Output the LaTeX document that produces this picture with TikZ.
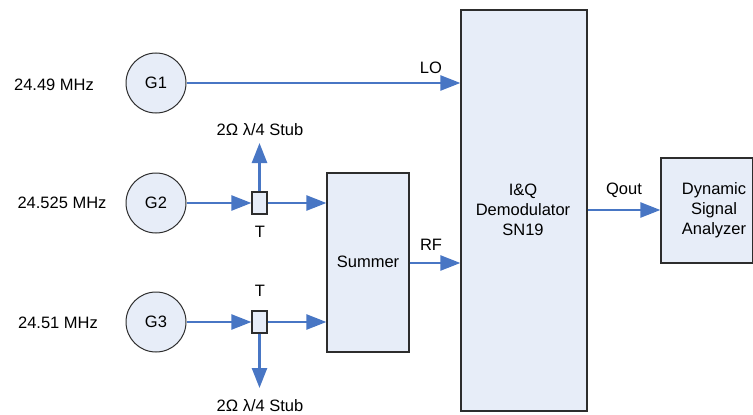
\documentclass[tikz,border=0pt]{standalone}
\usepackage{fontspec}
\setmainfont{Liberation Sans}
\usetikzlibrary{arrows.meta}
\definecolor{arrowblue}{RGB}{72,118,196}
\definecolor{boxfill}{RGB}{231,237,248}
\definecolor{boxline}{RGB}{45,45,45}
\begin{document}
\begin{tikzpicture}[x=1pt,y=-1pt,
  lbl/.style={font=\fontsize{16.5}{20}\selectfont, inner sep=0pt, align=center},
  gen/.style={circle, draw=boxline, line width=1pt, fill=boxfill, minimum size=60pt, inner sep=0pt, font=\fontsize{16.5}{20}\selectfont},
  blk/.style={draw=boxline, line width=1.2pt, fill=boxfill, inner sep=0pt},
  tee/.style={draw=boxline, line width=1.2pt, fill=boxfill, minimum width=15pt, minimum height=22pt, inner sep=0pt},
  sig/.style={draw=arrowblue, line width=2.5pt, -{Triangle[length=20pt,width=15pt]}, shorten >=0pt}
]
\useasboundingbox (0,0) rectangle (753,415);
% boxes
\node[blk, minimum width=126pt, minimum height=401pt] (demod) at (524,210.5) {};
\node[lbl] (demodtxt) at (523,210) {I\&Q\\Demodulator\\SN19};
\node[blk, minimum width=82pt, minimum height=179pt] (summer) at (368,262.5) {};
\node[lbl] (summertxt) at (368,262) {Summer};
\node[blk, minimum width=92pt, minimum height=105pt] (dsa) at (707,210.5) {};
\node[lbl] (dsatxt) at (714,210) {Dynamic\\Signal\\Analyzer};
% generators
\node[gen] (g1) at (156,83) {G1};
\node[gen] (g2) at (156,203) {G2};
\node[gen] (g3) at (156,322) {G3};
\node[lbl] (f1) at (54,85) {24.49 MHz};
\node[lbl] (f2) at (62,203) {24.525 MHz};
\node[lbl] (f3) at (58,323) {24.51 MHz};
% tees
\node[tee] (t1) at (259.5,203) {};
\node[tee] (t2) at (259.5,322) {};
\node[lbl] (t1l) at (260,232) {T};
\node[lbl] (t2l) at (260,291) {T};
\coordinate (s1) at (259.5,143);
\coordinate (s2) at (259.5,388);
\node[lbl] (s1l) at (260,130) {2Ω λ/4 Stub};
\node[lbl] (s2l) at (260,406) {2Ω λ/4 Stub};
% connectors
\draw[sig] (g1.east) -- (demod.west |- g1.east);
\node[lbl] (lo) at (431,68) {LO};
\draw[sig] (g2.east) -- (t1.west);
\draw[sig] (t1.east) -- (summer.west |- t1.east);
\draw[sig] (t1.north) -- (s1);
\draw[sig] (g3.east) -- (t2.west);
\draw[sig] (t2.east) -- (summer.west |- t2.east);
\draw[sig] (t2.south) -- (s2);
\draw[sig] (summer.east |- 0,263) -- (demod.west |- 0,263);
\node[lbl] (rf) at (431,245) {RF};
\draw[sig] (demod.east |- 0,210) -- (dsa.west |- 0,210);
\node[lbl] (qout) at (624,190) {Qout};
\end{tikzpicture}
\end{document}
